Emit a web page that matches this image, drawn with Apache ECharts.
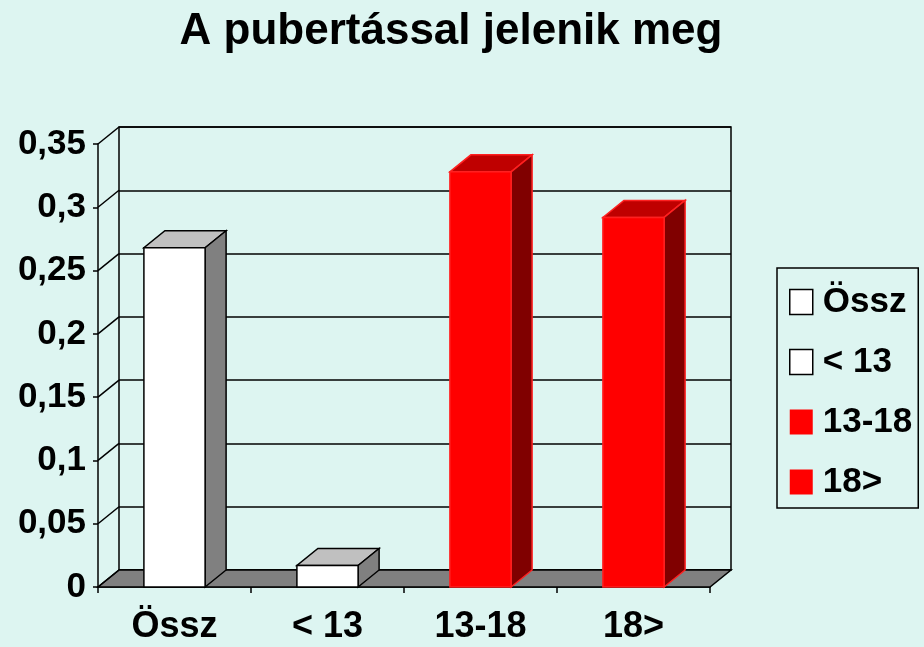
<!DOCTYPE html>
<html>
<head>
<meta charset="utf-8">
<script src="https://cdn.jsdelivr.net/npm/echarts@6/dist/echarts.min.js"></script>
<style>
  html, body { margin: 0; padding: 0; background: #ddf5f1; }
  #chart { width: 924px; height: 647px; }
</style>
</head>
<body>
<div id="chart"></div>
<script>
var categories = ['Össz', '< 13', '13-18', '18>'];
var values = [0.268, 0.017, 0.328, 0.292];
var yTicks = [0, 0.05, 0.1, 0.15, 0.2, 0.25, 0.3, 0.35];
var yTickLabels = ['0', '0,05', '0,1', '0,15', '0,2', '0,25', '0,3', '0,35'];

// színek: elülső lap, teteje, oldala, keret
var frontColors = ['#ffffff', '#ffffff', '#ff0000', '#ff0000'];
var topColors = ['#c0c0c0', '#c0c0c0', '#bf0000', '#bf0000'];
var sideColors = ['#808080', '#808080', '#800000', '#800000'];
var edgeColors = ['#000000', '#000000', '#ff2020', '#ff2020'];

var DX = 21, DY = -17;   // 3D mélység eltolás
var FONT = 'Liberation Sans, Arial, sans-serif';

var myChart = echarts.init(document.getElementById('chart'));

function boxRenderer(i) {
    return function (params, api) {
        var cat = api.value(0), v = api.value(1);
        var base = api.coord([cat, 0]);
        var top = api.coord([cat, v]);
        var bw = api.size([1, 0])[0] * 0.4;
        var x0 = base[0] - bw / 2, x1 = base[0] + bw / 2;
        var y0 = base[1], y1 = top[1];
        var lw = 1.5;
        return {
            type: 'group',
            children: [
                {
                    type: 'polygon',
                    shape: { points: [[x0, y1], [x1, y1], [x1 + DX, y1 + DY], [x0 + DX, y1 + DY]] },
                    style: { fill: topColors[i], stroke: edgeColors[i], lineWidth: lw }
                },
                {
                    type: 'polygon',
                    shape: { points: [[x1, y0], [x1 + DX, y0 + DY], [x1 + DX, y1 + DY], [x1, y1]] },
                    style: { fill: sideColors[i], stroke: edgeColors[i], lineWidth: lw }
                },
                {
                    type: 'rect',
                    shape: { x: x0, y: y1, width: bw, height: y0 - y1 },
                    style: { fill: frontColors[i], stroke: edgeColors[i], lineWidth: lw }
                }
            ]
        };
    };
}

var series = [];

// padló
series.push({
    type: 'custom',
    name: 'floor',
    xAxisIndex: 0,
    yAxisIndex: 0,
    silent: true,
    z: 1,
    data: [[0, 0]],
    renderItem: function (params, api) {
        var cs = params.coordSys;
        var y0 = api.coord([0, 0])[1];
        var xl = cs.x, xr = cs.x + cs.width;
        return {
            type: 'polygon',
            shape: { points: [[xl, y0], [xr, y0], [xr + DX, y0 + DY], [xl + DX, y0 + DY]] },
            style: { fill: '#808080', stroke: '#000', lineWidth: 1.5 }
        };
    }
});

// bal oldalfal átlói
series.push({
    type: 'custom',
    name: 'side',
    xAxisIndex: 0,
    yAxisIndex: 0,
    silent: true,
    z: 1,
    data: yTicks.map(function (v) { return [0, v]; }),
    renderItem: function (params, api) {
        var cs = params.coordSys;
        var y = api.coord([0, api.value(1)])[1];
        return {
            type: 'line',
            shape: { x1: cs.x, y1: y, x2: cs.x + DX, y2: y + DY },
            style: { stroke: '#000', lineWidth: 1.5 }
        };
    }
});

for (var i = 0; i < categories.length; i++) {
    series.push({
        type: 'custom',
        name: categories[i],
        xAxisIndex: 0,
        yAxisIndex: 0,
        z: 3,
        itemStyle: { color: frontColors[i], borderColor: edgeColors[i] },
        data: [[i, values[i]]],
        renderItem: boxRenderer(i)
    });
}

var option = {
    backgroundColor: '#ddf5f1',
    animation: false,
    title: {
        text: 'A pubertással jelenik meg',
        left: 446,
        top: 5,
        textAlign: 'center',
        textStyle: { fontFamily: FONT, fontWeight: 'bold', fontSize: 44, color: '#000' }
    },
    legend: {
        orient: 'vertical',
        left: 777,
        top: 268,
        padding: [16, 6, 8, 12],
        itemGap: 24,
        itemWidth: 23,
        itemHeight: 25,
        borderColor: '#000',
        borderWidth: 1.5,
        icon: 'rect',
        selectedMode: false,
        textStyle: { fontFamily: FONT, fontWeight: 'bold', fontSize: 35, color: '#000', lineHeight: 36, padding: [0, 0, 0, 5] },
        data: categories.map(function (c, i) {
            return {
                name: c,
                itemStyle: { color: frontColors[i], borderColor: i < 2 ? '#000' : frontColors[i], borderWidth: i < 2 ? 1.5 : 0 }
            };
        })
    },
    grid: [
        { left: 98, right: 214, top: 144, bottom: 60, outerBoundsMode: 'none', containLabel: false },
        { left: 98 + DX, right: 214 - DX, top: 144 + DY, bottom: 60 - DY, outerBoundsMode: 'none', containLabel: false, show: true, borderColor: '#000', borderWidth: 1.5, backgroundColor: 'transparent' }
    ],
    xAxis: [
        {
            type: 'category',
            gridIndex: 0,
            data: categories,
            boundaryGap: true,
            axisLine: { lineStyle: { color: '#000', width: 1.5 } },
            axisTick: { show: true, length: 6, interval: 0, lineStyle: { color: '#000', width: 1.5 } },
            axisLabel: { interval: 0, margin: 22, fontFamily: FONT, fontWeight: 'bold', fontSize: 36, color: '#000' },
            splitLine: { show: false }
        },
        {
            type: 'category',
            gridIndex: 1,
            data: categories,
            show: false
        }
    ],
    yAxis: [
        {
            type: 'value',
            gridIndex: 0,
            min: 0,
            max: 0.35,
            interval: 0.05,
            axisLine: { show: true, lineStyle: { color: '#000', width: 1.5 } },
            axisTick: { show: true, length: 5, lineStyle: { color: '#000', width: 1.5 } },
            axisLabel: {
                margin: 12,
                fontFamily: FONT,
                fontWeight: 'bold',
                fontSize: 35,
                color: '#000',
                formatter: function (v) {
                    var k = Math.round(v / 0.05);
                    return yTickLabels[k];
                }
            },
            splitLine: { show: false }
        },
        {
            type: 'value',
            gridIndex: 1,
            min: 0,
            max: 0.35,
            interval: 0.05,
            axisLine: { show: false },
            axisTick: { show: false },
            axisLabel: { show: false },
            splitLine: { show: true, lineStyle: { color: '#000', width: 1.5 } }
        }
    ],
    series: series
};

myChart.setOption(option);
</script>
</body>
</html>
